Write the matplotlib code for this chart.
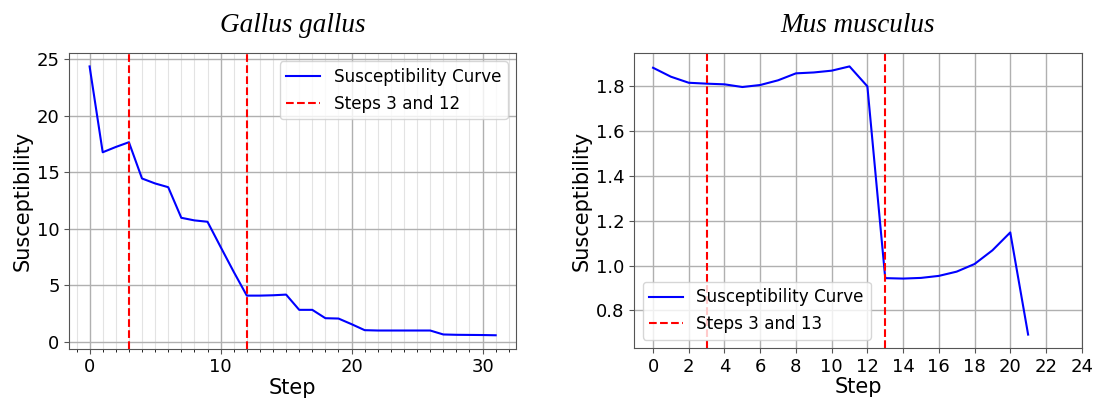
import matplotlib
matplotlib.use("Agg")
from matplotlib import pyplot as plt
from matplotlib.ticker import MultipleLocator
import numpy as np

# Gallus gallus susceptibility per step
gallus_steps = list(range(32))
gallus_values = [24.38, 16.78, 17.25, 17.67, 14.46, 14.02, 13.69, 10.98, 10.75, 10.63,
                 8.4, 6.2, 4.09, 4.09, 4.12, 4.18, 2.83, 2.83, 2.09, 2.06,
                 1.56, 1.03, 1.0, 1.0, 1.0, 1.0, 1.0, 0.65, 0.62, 0.61, 0.6, 0.58]
gallus_marks = [3, 12]

# Mus musculus susceptibility per step
mus_steps = list(range(22))
mus_values = [1.883, 1.843, 1.816, 1.812, 1.809, 1.797, 1.806, 1.827, 1.858, 1.862,
              1.870, 1.889, 1.80, 0.944, 0.942, 0.945, 0.954, 0.973, 1.007, 1.068,
              1.148, 0.692]
mus_marks = [3, 13]

W, H = 1095, 401
fig = plt.figure(figsize=(W / 100, H / 100), dpi=100)
ax1 = fig.add_axes([69.3 / W, 1 - 348.7 / H, (516 - 69.3) / W, (348.7 - 53) / H])
ax2 = fig.add_axes([634.3 / W, 1 - 348 / H, (1081.7 - 634.3) / W, (348 - 53) / H])

title_font = dict(family="Liberation Serif", style="italic", size=19.5)


def draw_panel(ax, steps, values, marks, title, legend_loc):
    ax.plot(steps, values, color="blue", lw=1.5, label="Susceptibility Curve")
    for i, m in enumerate(marks):
        ax.axvline(m, color="red", ls="--", lw=1.5,
                   label="Steps %d and %d" % tuple(marks) if i == 0 else None)
    ax.set_title(title, fontdict=title_font, pad=15)
    ax.set_xlabel("Step", fontsize=15, labelpad=1)
    ax.set_ylabel("Susceptibility", fontsize=15, labelpad=3)
    ax.tick_params(labelsize=13, color="#555555")
    for s in ax.spines.values():
        s.set_color("#555555")
    ax.legend(loc=legend_loc, fontsize=12.1)


draw_panel(ax1, gallus_steps, gallus_values, gallus_marks, "Gallus gallus", "upper right")
ax1.xaxis.set_major_locator(MultipleLocator(10))
ax1.xaxis.set_minor_locator(MultipleLocator(1))
ax1.grid(which="major", color="#b0b0b0", lw=1.0)
ax1.grid(which="minor", color="#b0b0b0", lw=0.8, alpha=0.35)
ax1.set_axisbelow(True)

draw_panel(ax2, mus_steps, mus_values, mus_marks, "Mus musculus", "lower left")
ax2.set_xticks(np.arange(0, 25, 2))
ax2.grid(color="#b0b0b0", lw=1.0)
ax2.set_axisbelow(True)

fig.savefig("out.png", dpi=100)
